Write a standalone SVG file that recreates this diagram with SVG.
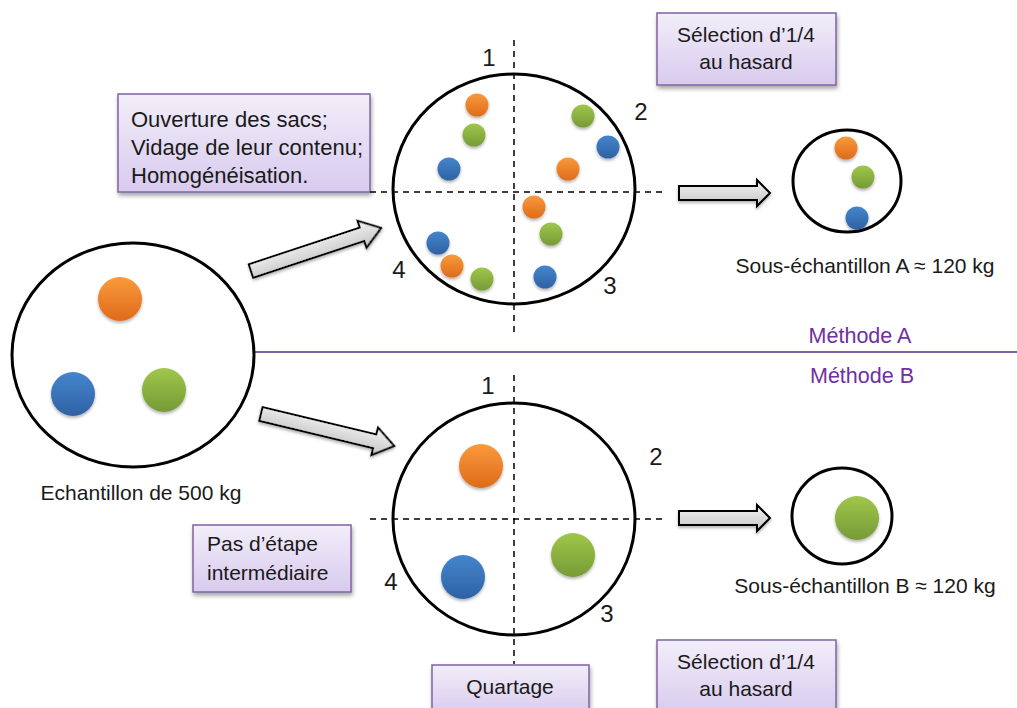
<svg xmlns="http://www.w3.org/2000/svg" width="1017" height="708" viewBox="0 0 1017 708">
<style>
text{font-family:"Liberation Sans","Open Sans",Arial,sans-serif;fill:#1a1a1a;}
.lbl{font-size:21px;}
.num{font-size:24px;}
.meth{font-size:21.5px;fill:#7030a0;}
.box{fill:url(#gBox);stroke:#8064a2;stroke-width:1.5;filter:url(#sh);}
.ring{fill:none;stroke:#000;stroke-width:3;}
.dash{stroke:#000;stroke-width:1.5;stroke-dasharray:6 5;fill:none;}
.arr{fill:url(#gArr);stroke:#000;stroke-width:2;stroke-linejoin:miter;filter:url(#sh2);}
.o{fill:url(#gO);filter:url(#sh2);}
.b{fill:url(#gB);filter:url(#sh2);}
.g{fill:url(#gG);filter:url(#sh2);}
</style>
<defs>
<linearGradient id="gBox" x1="0" y1="0" x2="0" y2="1"><stop offset="0" stop-color="#f2eef9"/><stop offset="1" stop-color="#d8caee"/></linearGradient>
<linearGradient id="gArr" x1="0" y1="0" x2="0" y2="1"><stop offset="0" stop-color="#f4f4f4"/><stop offset="1" stop-color="#c4c4c4"/></linearGradient>
<linearGradient id="gO" x1="0" y1="0" x2="0" y2="1"><stop offset="0" stop-color="#f99a3c"/><stop offset="1" stop-color="#de6b1a"/></linearGradient>
<linearGradient id="gB" x1="0" y1="0" x2="0" y2="1"><stop offset="0" stop-color="#4585cc"/><stop offset="1" stop-color="#2e62a4"/></linearGradient>
<linearGradient id="gG" x1="0" y1="0" x2="0" y2="1"><stop offset="0" stop-color="#9fc74a"/><stop offset="1" stop-color="#779a37"/></linearGradient>
<filter id="sh" x="-10%" y="-10%" width="130%" height="140%"><feDropShadow dx="1" dy="3" stdDeviation="2" flood-color="#000" flood-opacity="0.35"/></filter>
<filter id="sh2" x="-30%" y="-30%" width="160%" height="170%"><feDropShadow dx="0" dy="2" stdDeviation="1.5" flood-color="#000" flood-opacity="0.3"/></filter>
</defs>

<g id="connectors">
<path class="arr" transform="translate(251,271) rotate(-18.3)" d="M0,-7 H117 V-14 L137,0 L117,14 V7 H0 Z"/>
<path class="arr" transform="translate(261,414) rotate(13.5)" d="M0,-7 H117 V-14 L137,0 L117,14 V7 H0 Z"/>
<path class="arr" d="M679,186 H757 V180 L770,193 L757,206 V200 H679 Z"/>
<path class="arr" d="M679,511 H757 V505 L770,518 L757,531 V525 H679 Z"/>
</g>

<g id="divider">
<line x1="255" y1="352" x2="1017" y2="352" stroke="#8064a2" stroke-width="2"/>
<text class="meth" x="860" y="343" text-anchor="middle">Méthode A</text>
<text class="meth" x="862" y="383" text-anchor="middle">Méthode B</text>
</g>

<g id="sample500">
<ellipse class="ring" cx="133" cy="355" rx="121" ry="112"/>
<circle class="o" cx="120" cy="299" r="22"/>
<circle class="b" cx="73" cy="394" r="22"/>
<circle class="g" cx="164" cy="390" r="22"/>
<text class="lbl" x="141" y="500" text-anchor="middle">Echantillon de 500 kg</text>
</g>

<g id="boxA">
<rect class="box" x="118" y="94" width="252" height="98"/>
<text class="lbl" x="131" y="127" style="font-size:22px">Ouverture des sacs;</text>
<text class="lbl" x="131" y="155" style="font-size:22px">Vidage de leur contenu;</text>
<text class="lbl" x="131" y="183" style="font-size:22px">Homogénéisation.</text>
</g>

<g id="quartA">
<line class="dash" x1="514" y1="40" x2="514" y2="332"/>
<line class="dash" x1="370" y1="192" x2="665" y2="192"/>
<ellipse class="ring" cx="514" cy="189" rx="121" ry="115"/>
<circle class="o" cx="477" cy="105" r="11.5"/>
<circle class="g" cx="474" cy="135" r="11.5"/>
<circle class="b" cx="449" cy="169" r="11.5"/>
<circle class="g" cx="583" cy="116" r="11.5"/>
<circle class="b" cx="608" cy="147" r="11.5"/>
<circle class="o" cx="568" cy="169" r="11.5"/>
<circle class="o" cx="534" cy="207" r="11.5"/>
<circle class="g" cx="551" cy="234" r="11.5"/>
<circle class="b" cx="438" cy="243" r="11.5"/>
<circle class="o" cx="452" cy="266" r="11.5"/>
<circle class="g" cx="482" cy="279" r="11.5"/>
<circle class="b" cx="545" cy="277" r="11.5"/>
<text class="num" x="489" y="66" text-anchor="middle">1</text>
<text class="num" x="641" y="120" text-anchor="middle">2</text>
<text class="num" x="610" y="294" text-anchor="middle">3</text>
<text class="num" x="399" y="278" text-anchor="middle">4</text>
</g>

<g id="selA">
<rect class="box" x="657" y="13" width="179" height="72"/>
<text class="lbl" x="746" y="42" text-anchor="middle">Sélection d’1/4</text>
<text class="lbl" x="746" y="69" text-anchor="middle">au hasard</text>
</g>

<g id="subA">
<ellipse class="ring" cx="847" cy="181" rx="54" ry="51"/>
<circle class="o" cx="846" cy="148" r="11.5"/>
<circle class="g" cx="863" cy="177" r="11.5"/>
<circle class="b" cx="857" cy="218" r="11.5"/>
<text class="lbl" x="865" y="273" text-anchor="middle">Sous-échantillon A ≈ 120 kg</text>
</g>

<g id="quartB">
<line class="dash" x1="514" y1="375" x2="514" y2="664"/>
<line class="dash" x1="370" y1="519" x2="665" y2="519"/>
<ellipse class="ring" cx="514" cy="519" rx="121" ry="116"/>
<circle class="o" cx="481" cy="466" r="22"/>
<circle class="b" cx="463" cy="577" r="22"/>
<circle class="g" cx="573" cy="555" r="22"/>
<text class="num" x="488" y="394" text-anchor="middle">1</text>
<text class="num" x="656" y="465" text-anchor="middle">2</text>
<text class="num" x="607" y="622" text-anchor="middle">3</text>
<text class="num" x="391" y="590" text-anchor="middle">4</text>
</g>

<g id="boxB">
<rect class="box" x="193" y="525" width="158" height="67"/>
<text class="lbl" x="207" y="551">Pas d’étape</text>
<text class="lbl" x="207" y="580">intermédiaire</text>
</g>

<g id="quartage">
<rect class="box" x="432" y="665" width="157" height="50"/>
<text class="lbl" x="510" y="694" text-anchor="middle">Quartage</text>
</g>

<g id="selB">
<rect class="box" x="657" y="640" width="179" height="75"/>
<text class="lbl" x="746" y="669" text-anchor="middle">Sélection d’1/4</text>
<text class="lbl" x="746" y="696" text-anchor="middle">au hasard</text>
</g>

<g id="subB">
<ellipse class="ring" cx="842" cy="516" rx="50" ry="48"/>
<circle class="g" cx="857" cy="518" r="22"/>
<text class="lbl" x="865" y="593" text-anchor="middle">Sous-échantillon B ≈ 120 kg</text>
</g>
</svg>
